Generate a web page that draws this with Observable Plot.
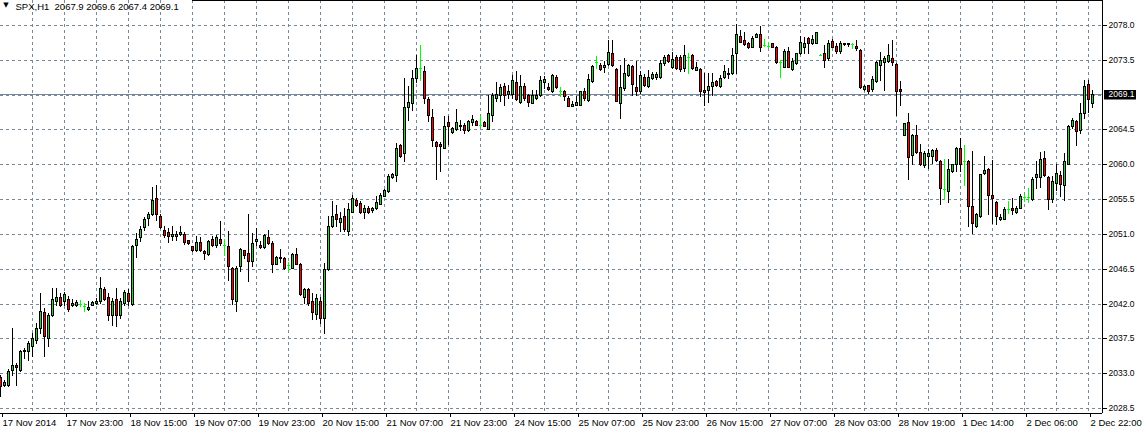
<!DOCTYPE html>
<html>
<head>
<meta charset="utf-8">
<script src="https://cdn.jsdelivr.net/npm/d3@7"></script>
<script src="https://cdn.jsdelivr.net/npm/@observablehq/plot@0.6"></script>
<style>
  html, body { margin: 0; padding: 0; background: #ffffff; }
  #chart { width: 1143px; height: 432px; overflow: hidden; }
</style>
</head>
<body>
<div id="chart"></div>
<script>
// ---- Data (SPX, H1 candles) ----
const symbolTitle = "SPX,H1";

const open = [
  2032.46,2031.42,2031.42,2033.45,2034.09,2033.45,2035.81,2035.81,2036.46,2037.32,
  2038.83,2040.89,2037.54,2040.55,2042.27,2042.79,2042.27,2042.62,2041.80,2041.84,
  2041.97,2041.63,2041.28,2041.84,2042.06,2042.27,2043.91,2042.83,2040.55,2042.62,
  2040.55,2042.06,2043.35,2041.97,2049.62,2050.56,2051.90,2053.05,2053.57,2055.63,
  2053.31,2051.55,2051.25,2050.69,2050.69,2050.99,2050.99,2050.22,2049.49,2048.89,
  2049.96,2048.85,2048.42,2050.39,2049.53,2050.39,2049.62,2049.41,2046.62,2042.32,
  2046.83,2048.89,2048.55,2047.47,2050.05,2049.62,2049.32,2050.61,2049.83,2047.13,
  2047.90,2047.90,2046.96,2046.62,2048.42,2047.13,2042.84,2043.91,2042.32,2040.61,
  2042.32,2040.11,2046.46,2052.04,2053.63,2052.60,2053.33,2051.40,2053.84,2055.35,
  2054.96,2053.84,2054.40,2054.10,2054.32,2054.92,2055.90,2056.55,2058.35,2058.61,
  2062.43,2061.48,2067.41,2067.92,2071.14,2072.43,2072.08,2068.44,2066.12,2062.90,
  2062.64,2062.13,2065.47,2064.19,2064.57,2064.92,2065.05,2064.40,2065.43,2065.56,
  2065.13,2065.43,2064.57,2066.33,2068.56,2068.99,2070.15,2069.08,2069.08,2070.63,
  2068.01,2070.15,2068.99,2067.92,2068.56,2068.91,2070.63,2069.98,2069.42,2071.27,
  2069.42,2069.42,2068.56,2067.58,2067.71,2067.71,2069.42,2068.26,2070.71,2073.20,
  2072.86,2072.56,2072.94,2074.36,2072.30,2067.92,2069.85,2071.48,2072.64,2069.98,
  2069.42,2071.27,2070.07,2071.14,2071.23,2071.23,2073.07,2074.14,2072.51,2073.84,
  2073.84,2072.43,2073.80,2074.14,2072.21,2072.29,2069.63,2069.55,2070.06,2070.79,
  2070.06,2071.26,2071.69,2071.78,2074.35,2076.58,2076.07,2075.73,2075.21,2076.50,
  2076.80,2075.38,2075.34,2075.64,2075.21,2073.28,2072.63,2074.65,2072.29,2073.07,
  2074.35,2075.13,2076.28,2075.73,2075.73,2074.14,2074.35,2073.71,2075.98,2075.30,
  2074.70,2075.51,2075.64,2075.51,2075.30,2074.78,2069.72,2070.28,2069.72,2070.71,
  2072.86,2073.20,2073.29,2073.72,2072.94,2069.77,2063.76,2065.47,2061.18,2063.72,
  2061.61,2059.90,2061.05,2061.05,2061.83,2060.41,2056.76,2056.55,2059.12,2060.07,
  2062.13,2060.41,2060.41,2054.62,2052.04,2053.33,2058.91,2059.42,2055.99,2055.17,
  2052.99,2052.99,2054.19,2054.40,2053.89,2054.40,2055.77,2055.77,2055.48,2058.35,
  2058.39,2060.80,2058.30,2055.55,2057.57,2058.65,2057.36,2060.07,2064.97,2065.53,
  2064.45,2066.60,2070.34,2067.9
];
const high = [
  2032.80,2032.16,2033.53,2038.83,2034.31,2036.03,2036.24,2037.11,2038.18,2039.47,
  2043.35,2041.41,2040.77,2043.99,2043.99,2043.35,2043.43,2042.92,2042.62,2042.49,
  2042.49,2042.06,2042.27,2042.27,2042.70,2045.41,2044.12,2043.35,2042.70,2043.99,
  2042.70,2043.78,2043.86,2049.59,2051.10,2051.98,2053.14,2053.83,2057.05,2057.35,
  2053.57,2052.07,2051.77,2051.98,2051.42,2052.07,2051.25,2050.26,2049.49,2050.78,
  2050.56,2048.98,2050.22,2050.69,2050.91,2052.62,2050.39,2051.34,2046.70,2046.83,
  2049.19,2048.98,2053.61,2051.12,2051.77,2050.05,2050.99,2051.55,2050.05,2048.12,
  2049.11,2047.99,2047.39,2048.55,2049.19,2047.26,2044.04,2044.04,2043.31,2043.18,
  2042.84,2047.19,2053.33,2055.26,2054.70,2053.84,2054.40,2055.05,2055.99,2055.69,
  2055.26,2054.70,2054.62,2054.49,2055.90,2056.33,2056.85,2058.69,2058.91,2062.77,
  2062.64,2071.14,2070.07,2072.13,2074.14,2075.43,2072.64,2068.65,2067.19,2062.99,
  2062.86,2066.20,2066.20,2064.79,2067.19,2065.78,2065.35,2065.78,2066.42,2065.78,
  2066.20,2065.56,2068.99,2069.21,2070.63,2070.37,2070.50,2070.28,2071.57,2072.00,
  2071.57,2070.50,2069.08,2069.64,2069.64,2071.35,2071.35,2070.50,2071.66,2071.57,
  2069.94,2069.64,2068.78,2068.14,2068.78,2069.51,2069.85,2071.66,2072.86,2073.93,
  2073.07,2073.29,2076.08,2076.08,2072.43,2072.86,2073.72,2072.94,2072.86,2073.29,
  2072.08,2071.70,2072.21,2071.91,2071.91,2073.50,2074.14,2074.23,2074.57,2074.06,
  2074.06,2075.43,2074.36,2074.22,2073.28,2072.42,2071.78,2071.78,2071.78,2070.92,
  2071.56,2072.85,2072.42,2075.00,2078.13,2077.36,2077.14,2075.85,2076.58,2076.93,
  2077.87,2076.15,2075.85,2075.73,2075.30,2073.49,2074.87,2075.21,2073.71,2074.44,
  2076.58,2076.41,2076.50,2076.71,2077.14,2074.20,2075.43,2076.07,2076.15,2075.64,
  2075.98,2075.73,2075.73,2075.64,2076.07,2074.87,2070.28,2070.28,2071.35,2073.29,
  2074.49,2073.93,2075.52,2076.08,2073.07,2070.80,2065.35,2066.63,2063.93,2065.13,
  2062.64,2061.70,2061.91,2061.91,2062.13,2060.50,2060.63,2060.63,2060.07,2062.21,
  2063.41,2062.43,2060.50,2061.70,2053.76,2058.78,2061.05,2059.55,2060.50,2055.26,
  2053.54,2054.49,2055.26,2055.69,2054.62,2056.12,2056.12,2056.98,2058.35,2060.41,
  2061.61,2061.70,2058.43,2058.43,2060.07,2059.08,2061.44,2065.10,2065.96,2065.66,
  2067.98,2070.90,2070.90,2069.6
];
const low = [
  2030.00,2031.29,2031.40,2032.80,2031.51,2033.23,2034.95,2034.74,2035.17,2036.89,
  2038.18,2035.17,2036.46,2040.33,2041.84,2041.63,2041.84,2040.98,2041.63,2041.63,
  2041.63,2040.98,2041.20,2041.75,2041.97,2042.06,2042.49,2039.90,2039.26,2039.04,
  2040.12,2041.84,2041.84,2041.84,2048.00,2050.14,2051.55,2052.20,2053.48,2052.84,
  2051.77,2050.61,2049.92,2050.26,2050.18,2050.91,2049.75,2049.75,2048.85,2048.85,
  2048.76,2047.78,2048.33,2049.41,2049.28,2049.62,2048.33,2044.99,2041.90,2041.04,
  2046.27,2047.90,2044.90,2046.83,2049.62,2049.19,2049.19,2049.75,2046.06,2047.05,
  2047.35,2046.49,2046.19,2046.53,2047.05,2043.10,2042.11,2041.77,2040.05,2039.96,
  2039.45,2038.18,2046.40,2051.95,2052.04,2051.40,2051.40,2050.84,2053.84,2054.62,
  2053.76,2053.03,2053.76,2053.84,2054.19,2054.83,2055.90,2056.46,2058.26,2057.84,
  2060.97,2060.41,2065.78,2067.06,2070.58,2070.93,2067.92,2065.65,2062.34,2058.14,
  2059.12,2062.13,2062.64,2064.06,2064.49,2064.49,2064.06,2064.36,2065.13,2065.05,
  2064.92,2064.92,2064.57,2065.65,2068.22,2068.22,2067.71,2068.56,2068.56,2068.35,
  2067.92,2068.35,2067.49,2067.92,2068.44,2068.78,2069.85,2069.64,2069.34,2069.85,
  2068.87,2068.35,2067.49,2067.49,2067.62,2067.62,2068.35,2068.14,2070.63,2072.43,
  2072.21,2071.91,2072.86,2072.64,2068.14,2065.99,2069.64,2071.35,2068.99,2068.91,
  2069.21,2070.07,2069.94,2071.05,2071.05,2071.14,2072.77,2073.20,2072.43,2072.30,
  2072.08,2072.00,2071.78,2072.34,2072.21,2068.77,2067.70,2068.00,2068.99,2070.15,
  2069.93,2071.13,2071.13,2071.69,2071.86,2075.85,2075.43,2075.00,2075.13,2076.41,
  2074.70,2075.30,2075.21,2075.13,2073.15,2071.26,2072.63,2072.51,2072.21,2072.98,
  2074.27,2074.35,2074.35,2075.55,2075.64,2074.10,2072.63,2073.49,2075.13,2074.35,
  2074.44,2075.43,2075.30,2075.00,2074.78,2069.85,2069.55,2069.20,2069.42,2070.63,
  2070.93,2069.64,2073.20,2072.86,2066.42,2067.62,2063.76,2058.05,2059.98,2061.48,
  2059.90,2059.64,2059.55,2060.20,2060.41,2054.83,2055.56,2055.17,2059.04,2059.12,
  2059.12,2057.32,2052.04,2051.18,2051.91,2053.20,2058.69,2053.54,2052.47,2052.26,
  2052.77,2052.90,2053.76,2053.63,2053.76,2054.32,2055.26,2055.17,2055.35,2056.98,
  2057.06,2058.48,2054.26,2055.08,2056.71,2055.85,2055.42,2060.02,2064.67,2062.52,
  2064.02,2065.96,2066.82,2067.4
];
const close = [
  2031.38,2031.81,2033.32,2034.09,2033.75,2035.90,2036.03,2036.89,2037.54,2038.83,
  2040.98,2037.75,2040.55,2042.62,2042.79,2041.84,2043.26,2041.32,2042.06,2042.14,
  2041.97,2041.63,2041.54,2042.14,2042.36,2043.99,2042.62,2040.55,2042.36,2040.55,
  2042.36,2043.48,2042.27,2049.50,2050.35,2051.68,2052.97,2053.57,2055.41,2053.57,
  2051.90,2050.82,2050.69,2050.99,2051.04,2051.25,2049.92,2049.84,2048.89,2049.96,
  2048.89,2048.55,2050.14,2049.53,2050.61,2049.84,2049.62,2046.83,2042.62,2046.62,
  2049.06,2048.33,2047.47,2049.83,2050.35,2049.32,2050.91,2049.83,2047.13,2048.03,
  2048.03,2046.62,2046.96,2048.42,2047.13,2043.18,2043.91,2042.11,2040.95,2042.67,
  2040.09,2046.46,2052.04,2053.33,2052.99,2053.11,2051.61,2054.19,2055.69,2054.75,
  2053.84,2054.40,2053.84,2054.40,2055.17,2056.03,2056.63,2058.48,2058.69,2062.13,
  2061.05,2067.41,2068.05,2071.14,2072.43,2072.43,2068.56,2066.42,2063.20,2062.34,
  2062.34,2065.00,2064.92,2064.70,2065.47,2065.13,2064.49,2065.56,2065.86,2065.13,
  2065.13,2065.00,2066.63,2068.99,2069.08,2069.94,2068.99,2069.51,2070.93,2068.44,
  2070.15,2068.56,2068.01,2068.99,2068.99,2070.93,2071.01,2069.72,2071.48,2069.98,
  2069.42,2068.78,2067.49,2067.84,2068.05,2069.42,2068.56,2071.05,2072.64,2073.20,
  2072.30,2072.86,2074.49,2072.86,2068.22,2069.94,2071.78,2072.86,2070.37,2069.42,
  2071.57,2070.28,2071.23,2071.70,2071.70,2073.07,2073.84,2073.29,2073.63,2072.43,
  2072.30,2074.14,2073.80,2072.42,2072.55,2069.42,2069.33,2070.15,2070.62,2070.28,
  2071.13,2072.08,2071.86,2074.14,2076.84,2075.85,2075.55,2075.21,2076.28,2076.84,
  2075.21,2075.38,2075.34,2075.21,2073.28,2073.28,2074.70,2072.55,2073.41,2074.35,
  2075.85,2075.73,2075.64,2076.20,2077.14,2074.14,2073.49,2075.73,2075.21,2074.65,
  2075.64,2075.64,2075.51,2075.51,2075.00,2069.93,2070.06,2069.42,2071.01,2073.20,
  2073.50,2073.72,2074.06,2073.20,2069.42,2069.42,2065.35,2060.93,2063.72,2061.61,
  2059.98,2061.48,2061.48,2061.83,2060.50,2056.89,2056.76,2059.42,2059.98,2062.13,
  2060.07,2060.41,2054.62,2052.47,2053.63,2058.69,2059.21,2056.03,2055.60,2053.33,
  2053.20,2054.19,2054.19,2054.10,2054.40,2055.90,2055.77,2055.77,2058.14,2058.69,
  2060.63,2058.61,2055.55,2057.87,2058.86,2057.48,2060.45,2064.97,2065.66,2064.32,
  2066.60,2070.13,2068.41,2069.1
];

// time axis labels: one label every 16 bars, grid every 8 bars
const timeLabels = [
  "17 Nov 2014","17 Nov 23:00","18 Nov 15:00","19 Nov 07:00","19 Nov 23:00",
  "20 Nov 15:00","21 Nov 07:00","21 Nov 23:00","24 Nov 15:00","25 Nov 07:00",
  "25 Nov 23:00","26 Nov 15:00","27 Nov 07:00","28 Nov 03:00","28 Nov 19:00",
  "1 Dec 14:00","2 Dec 06:00","2 Dec 22:00"
];
const timeLabelStep = 16;
const timeGridStep = 8;

// price axis ticks
const priceTicks = [2028.5, 2033.0, 2037.5, 2042.0, 2046.5, 2051.0, 2055.5, 2060.0, 2064.5, 2069.0, 2073.5, 2078.0];

// ---- Build table ----
const n = open.length;
const lastPrice = close[n - 1];
const bars = open.map((o, i) => {
  const c = close[i];
  return {i, o, h: high[i], l: low[i], c, top: Math.max(o, c), bot: Math.min(o, c)};
});
const upBars = bars.filter(d => d.c > d.o);
const downBars = bars.filter(d => d.c < d.o);
const bodyBars = bars.filter(d => d.c !== d.o);
const dojiBars = bars.filter(d => d.c === d.o);

const labelIdx = timeLabels.map((_, k) => k * timeLabelStep);
const gridIdx = d3.range(timeGridStep, n, timeGridStep);
const axisTicks = priceTicks.filter(p => Math.abs(p - lastPrice) > 1);

const gridColor = "#778899";
const bullColor = "#32cd32";
const bearColor = "#ff0000";
const dojiColor = "#00ff00";

const title = `${symbolTitle}\u00a0\u00a0` + [open, high, low, close].map(a => a[n - 1].toFixed(1)).join(" ");

const chart = Plot.plot({
  width: 1143,
  height: 432,
  marginLeft: 0,
  marginRight: 41,
  marginTop: 0,
  marginBottom: 19,
  style: {background: "#ffffff", color: "#000000", fontFamily: "'Liberation Sans', Arial, sans-serif", fontSize: "9.5px", overflow: "visible"},
  x: {type: "linear", domain: [0, 275.5], round: true},
  y: {type: "linear", domain: [2027.854, 2081.231], round: true},
  marks: [
    // grid
    Plot.ruleY(priceTicks, {stroke: gridColor, strokeDasharray: "3,3"}),
    Plot.ruleX(gridIdx, {stroke: gridColor, strokeDasharray: "3,3"}),
    // current price line
    Plot.ruleY([lastPrice], {stroke: gridColor}),
    // wicks
    Plot.ruleX(bodyBars, {x: "i", y1: "h", y2: "l", stroke: "#000", strokeWidth: 1, insetBottom: -1}),
    // bodies: black outline then coloured fill
    Plot.ruleX(bodyBars, {x: "i", y1: "top", y2: "bot", stroke: "#000", strokeWidth: 3, insetBottom: -1}),
    Plot.ruleX(upBars, {x: "i", y1: "top", y2: "bot", stroke: bullColor, strokeWidth: 1, insetTop: 1, insetBottom: 0}),
    Plot.ruleX(downBars, {x: "i", y1: "top", y2: "bot", stroke: bearColor, strokeWidth: 1, insetTop: 1, insetBottom: 0}),
    // dojis
    Plot.ruleX(dojiBars, {x: "i", y1: "h", y2: "l", stroke: dojiColor, strokeWidth: 1, insetBottom: -1}),
    Plot.ruleY(dojiBars, {y: "o", x1: d => d.i - 0.25, x2: d => d.i + 0.5, stroke: dojiColor, strokeWidth: 1}),
    // frame
    Plot.ruleX([275.5], {stroke: "#000"}),
    Plot.ruleY([2027.854], {stroke: "#000", x1: 0, x2: 275.5}),
    Plot.ruleY([2081.231], {stroke: "#000", x1: 48, x2: 275.5}),
    // axes
    Plot.axisX({
      anchor: "bottom", ticks: labelIdx, tickSize: 4, tickPadding: 2,
      tickFormat: d => timeLabels[Math.round(d / timeLabelStep)],
      textAnchor: "start", dx: 2, fontSize: 9.5, label: null
    }),
    Plot.axisY({
      anchor: "right", ticks: axisTicks, tickSize: 4, tickPadding: 2,
      tickFormat: d => d.toFixed(1), fontSize: 8.5, label: null
    }),
    // last price tag
    Plot.rect([lastPrice], {x1: 275.5, x2: 275.5, y1: d => d, y2: d => d, insetLeft: 2, insetRight: -34, insetTop: -4, insetBottom: -5.5, fill: "#000"}),
    Plot.text([lastPrice], {y: d => d, frameAnchor: "right", dx: 6, textAnchor: "start", text: d => d.toFixed(1), fill: "#fff", fontSize: 8.5}),
    // title
    Plot.text(["\u25BC"], {frameAnchor: "top-left", dx: 5.5, dy: 2, textAnchor: "middle", lineAnchor: "top", fontSize: 7, fill: "#000", fontFamily: "'DejaVu Sans', sans-serif"}),
    Plot.text([title], {frameAnchor: "top-left", dx: 15, dy: 3, textAnchor: "start", lineAnchor: "top", fontSize: 9.5, fill: "#000"})
  ]
});

document.getElementById("chart").appendChild(chart);
</script>
</body>
</html>
